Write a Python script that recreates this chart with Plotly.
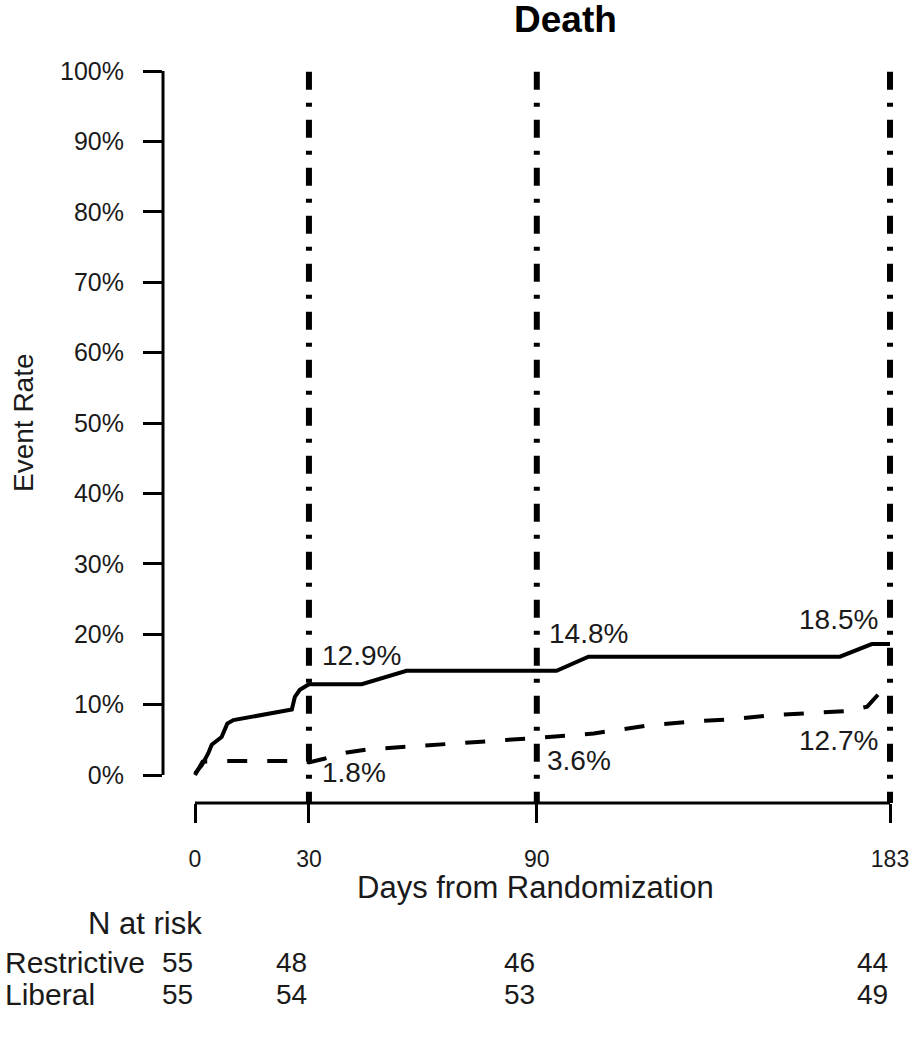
import plotly.graph_objects as go

# ---------------- data ----------------
restrictive_days = [0, 1.8, 3.5, 4.4, 7.0, 8.5, 10.1, 25.5, 26.3, 27.6, 30, 43.9, 55.7, 95.2, 103.6, 169.8, 178.2, 183]
restrictive_rate = [0.2, 1.4, 3.1, 4.3, 5.4, 7.3, 7.8, 9.3, 11.1, 12.1, 12.9, 12.9, 14.8, 14.8, 16.8, 16.8, 18.6, 18.6]

liberal_days = [0, 2.0, 8.0, 29.0, 30.0, 34.0, 40.0, 45.0, 50.0, 65.0, 88.0, 105.0, 120.0, 131.0, 141.0, 152.0, 162.0, 172.0, 177.0, 180.5, 183]
liberal_rate = [0.0, 1.9, 2.0, 2.0, 1.8, 2.3, 3.2, 3.6, 3.8, 4.3, 5.2, 5.9, 7.1, 7.6, 7.9, 8.5, 8.8, 9.1, 9.7, 11.8, 12.7]

landmark_days = [30, 90, 183]
restrictive_landmark = ["12.9%", "14.8%", "18.5%"]
restrictive_landmark_val = [12.9, 14.8, 18.5]
liberal_landmark = ["1.8%", "3.6%", "12.7%"]
liberal_landmark_val = [1.8, 3.6, 12.7]

xtick_vals = [0, 30, 90, 183]
ytick_vals = [0, 10, 20, 30, 40, 50, 60, 70, 80, 90, 100]
ytick_text = [f"{v}%" for v in ytick_vals]

risk_days = [0, 30, 90, 183]
risk_restrictive = [55, 48, 46, 44]
risk_liberal = [55, 54, 53, 49]

# ---------------- styling ----------------
FONT = "Liberation Sans, Arial, Helvetica, sans-serif"
TXT = "#1a1a1a"
W, H = 915, 1038
ML, MR, MT, MB = 163, 17, 68, 235
PW = W - ML - MR
PH = H - MT - MB
XR = [-8.426, 185.106]
YR = [-3.977, 100.426]


def px_x(px):
    return (px - ML) / PW


def px_y(py):
    return (H - MB - py) / PH


fig = go.Figure()

# vertical landmark lines (dash-dot)
for d in landmark_days:
    fig.add_shape(type="line", xref="x", yref="y", x0=d, x1=d, y0=99.9, y1=YR[0],
                  line=dict(color="black", width=6, dash="18px,13px,4px,13px"), layer="below")

fig.add_trace(go.Scatter(x=restrictive_days, y=restrictive_rate, mode="lines",
                         line=dict(color="black", width=4), name="Restrictive",
                         showlegend=False, hoverinfo="skip"))
fig.add_trace(go.Scatter(x=liberal_days, y=liberal_rate, mode="lines",
                         line=dict(color="black", width=4, dash="20px,20px"), name="Liberal",
                         showlegend=False, hoverinfo="skip"))

# axis lines as in R (only across tick range)
fig.add_shape(type="line", xref="paper", yref="y", x0=0, x1=0, y0=0, y1=100,
              line=dict(color="black", width=3))
fig.add_shape(type="line", xref="x", yref="paper", x0=xtick_vals[0], x1=xtick_vals[-1], y0=0, y1=0,
              line=dict(color="black", width=3))

ann = []
# landmark labels
r_shift = [(11, 29, "left"), (10, 37, "left"), (-10, 25, "right")]
l_shift = [(11, -10, "left"), (8, -11, "left"), (-10, -55, "right")]
for d, t, v, (xs, ys, xa) in zip(landmark_days, restrictive_landmark, restrictive_landmark_val, r_shift):
    ann.append(dict(x=d, y=v, xref="x", yref="y", text=t, showarrow=False, xanchor=xa, yanchor="middle",
                    xshift=xs, yshift=ys, font=dict(family=FONT, size=28, color=TXT)))
for d, t, v, (xs, ys, xa) in zip(landmark_days, liberal_landmark, liberal_landmark_val, l_shift):
    ann.append(dict(x=d, y=v, xref="x", yref="y", text=t, showarrow=False, xanchor=xa, yanchor="middle",
                    xshift=xs, yshift=ys, font=dict(family=FONT, size=28, color=TXT)))

# titles
ann.append(dict(x=px_x(565), y=px_y(19), xref="paper", yref="paper", text="<b>Death</b>", showarrow=False,
                xanchor="center", yanchor="middle", font=dict(family=FONT, size=37, color="black")))
ann.append(dict(x=px_x(535), y=px_y(888), xref="paper", yref="paper", text="Days from Randomization",
                showarrow=False, xanchor="center", yanchor="middle", font=dict(family=FONT, size=31, color=TXT)))
ann.append(dict(x=px_x(23), y=px_y(423), xref="paper", yref="paper", text="Event Rate", textangle=-90,
                showarrow=False, xanchor="center", yanchor="middle", font=dict(family=FONT, size=28, color=TXT)))

# risk table
ann.append(dict(x=px_x(145), y=px_y(923), xref="paper", yref="paper", text="N at risk", showarrow=False,
                xanchor="center", yanchor="middle", font=dict(family=FONT, size=31, color=TXT)))
ann.append(dict(x=px_x(3), y=px_y(962), xref="paper", yref="paper", text="Restrictive", showarrow=False,
                xanchor="left", yanchor="middle", font=dict(family=FONT, size=30, color=TXT)))
ann.append(dict(x=px_x(3), y=px_y(994), xref="paper", yref="paper", text="Liberal", showarrow=False,
                xanchor="left", yanchor="middle", font=dict(family=FONT, size=30, color=TXT)))
for d, n in zip(risk_days, risk_restrictive):
    ann.append(dict(x=d, y=px_y(962), xref="x", yref="paper", text=str(n), showarrow=False,
                    xanchor="right", yanchor="middle", font=dict(family=FONT, size=28, color=TXT)))
for d, n in zip(risk_days, risk_liberal):
    ann.append(dict(x=d, y=px_y(994), xref="x", yref="paper", text=str(n), showarrow=False,
                    xanchor="right", yanchor="middle", font=dict(family=FONT, size=28, color=TXT)))

fig.update_layout(
    width=W, height=H,
    margin=dict(l=ML, r=MR, t=MT, b=MB, autoexpand=False),
    paper_bgcolor="white", plot_bgcolor="white",
    annotations=ann,
    showlegend=False,
    xaxis=dict(range=XR, tickvals=xtick_vals, ticks="outside", ticklen=19, tickwidth=3, tickcolor="black",
               showline=False, showgrid=False, zeroline=False, ticklabelstandoff=16,
               tickfont=dict(family=FONT, size=23, color=TXT)),
    yaxis=dict(range=YR, tickvals=ytick_vals, ticktext=ytick_text, ticks="outside", ticklen=19, tickwidth=3,
               tickcolor="black", showline=False, showgrid=False, zeroline=False, ticklabelstandoff=14,
               tickfont=dict(family=FONT, size=25, color=TXT)),
)

fig.write_html("out.html")
